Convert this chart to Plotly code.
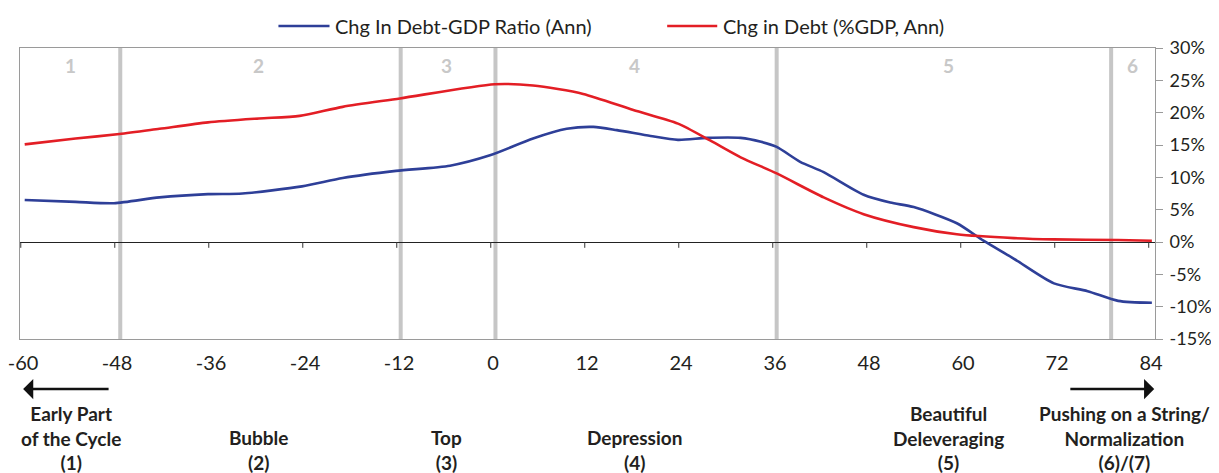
import plotly.graph_objects as go

# months relative to the top of the cycle (month 0)
blue_x = [-59.8, -53.3, -48.4, -42.6, -36.4, -32.0, -24.4, -19.2, -12.4, -5.5, -0.4, 5.1, 9.4,
          12.8, 15.8, 20.1, 23.6, 27.3, 31.6, 34.2, 36.2, 39.2, 42.2, 47.3, 50.7, 53.7, 59.2,
          62.6, 66.5, 71.6, 75.9, 79.8, 84.1]
blue_y = [6.5, 6.2, 6.0, 6.9, 7.4, 7.5, 8.6, 9.9, 11.0, 11.8, 13.4, 16.0, 17.5, 17.8, 17.3,
          16.4, 15.8, 16.1, 16.1, 15.5, 14.7, 12.4, 10.8, 7.3, 6.1, 5.4, 2.9, 0.2, -2.6, -6.4,
          -7.6, -9.1, -9.4]

red_x = [-59.8, -53.3, -47.7, -42.6, -36.4, -29.9, -24.7, -19.2, -11.9, 0.2, 5.1, 11.5, 17.9,
         23.6, 27.7, 31.6, 36.2, 42.2, 47.3, 53.7, 59.2, 66.5, 71.6, 79.8, 84.1]
red_y = [15.1, 16.0, 16.7, 17.5, 18.5, 19.1, 19.5, 20.9, 22.2, 24.4, 24.2, 22.9, 20.4,
         18.3, 15.7, 13.1, 10.6, 6.9, 4.3, 2.3, 1.2, 0.6, 0.4, 0.3, 0.2]

series_names = ["Chg In Debt-GDP Ratio (Ann)", "Chg in Debt (%GDP, Ann)"]
series_colors = ["#2e3f98", "#e31e25"]

stage_bounds = [-47.6, -11.8, 0.3, 36.2, 78.9]
stage_nums = ["1", "2", "3", "4", "5", "6"]
stage_pos = [-53.9, -29.9, -6.0, 18.0, 58.1, 81.6]
label_pos = [-53.9, -29.9, -6.0, 18.0, 58.1, 80.6]
stage_labels = ["Early Part<br>of the Cycle<br>(1)", "Bubble<br>(2)", "Top<br>(3)",
                "Depression<br>(4)", "Beautiful<br>Deleveraging<br>(5)",
                "Pushing on a String/<br>Normalization<br>(6)/(7)"]

x_ticks = list(range(-60, 85, 12))
y_ticks = list(range(-15, 31, 5))

FONT = "Lato"
TXT = "#231f20"

fig = go.Figure()
fig.add_trace(go.Scatter(x=blue_x, y=blue_y, mode="lines", name=series_names[0],
                         line=dict(color=series_colors[0], width=2.6, shape="spline", smoothing=0.7)))
fig.add_trace(go.Scatter(x=red_x, y=red_y, mode="lines", name=series_names[1],
                         line=dict(color=series_colors[1], width=2.6, shape="spline", smoothing=0.7)))

# stage separators
for b in stage_bounds:
    fig.add_shape(type="line", xref="x", yref="paper", x0=b, x1=b, y0=0, y1=1,
                  line=dict(color="#c6c6c6", width=4), layer="below")

# little ticks hanging off the zero line
for t in x_ticks:
    fig.add_shape(type="line", xref="x", yref="y", x0=t - 0.3, x1=t - 0.3, y0=0, y1=-0.9,
                  line=dict(color="#333333", width=1))

for n, p in zip(stage_nums, stage_pos):
    fig.add_annotation(x=p, y=27.3, xref="x", yref="y", text="<b>" + n + "</b>", showarrow=False,
                       font=dict(family=FONT, size=19, color="#c8c8c8"))

for lab, p in zip(stage_labels, label_pos):
    fig.add_annotation(x=p, y=-0.47, xref="x", yref="paper", text="<b>" + lab + "</b>",
                       showarrow=False, yanchor="bottom",
                       font=dict(family=FONT, size=19, color=TXT))

# arrows under the axis
fig.add_annotation(x=-60, y=-0.172, xref="x", yref="paper", ax=-48.9, ay=0,
                   axref="x", ayref="pixel", text="", showarrow=True, arrowhead=1,
                   arrowsize=1.3, arrowwidth=2.6, arrowcolor="#111111")
fig.add_annotation(x=84.4, y=-0.172, xref="x", yref="paper", ax=73.5, ay=0,
                   axref="x", ayref="pixel", text="", showarrow=True, arrowhead=1,
                   arrowsize=1.3, arrowwidth=2.6, arrowcolor="#111111")

# legend drawn above the frame
leg_line = [(0.2277, 0.2727), (0.5702, 0.6143)]
leg_y = 1.0756
for (x0, x1), name, col in zip(leg_line, series_names, series_colors):
    fig.add_shape(type="line", xref="paper", yref="paper", x0=x0, x1=x1, y0=leg_y, y1=leg_y,
                  line=dict(color=col, width=2.6))
    fig.add_annotation(x=x1 + 0.003, y=leg_y, xref="paper", yref="paper", text=name,
                       showarrow=False, xanchor="left", yanchor="middle",
                       font=dict(family=FONT, size=20, color=TXT))

# page body keeps an 8px margin, so the figure is 8px smaller and shifted
fig.update_layout(
    width=1211, height=465,
    margin=dict(l=12, r=64, t=40, b=134),
    paper_bgcolor="white", plot_bgcolor="white",
    font=dict(family=FONT, color=TXT),
    showlegend=False,
    xaxis=dict(range=[-60.4, 84.5], tickvals=x_ticks, ticktext=[str(v) for v in x_ticks],
               ticks="", showgrid=False, zeroline=False, automargin=False,
               ticklabeloverflow="allow",
               showline=True, linecolor="#9a9a9a", linewidth=1, mirror=True,
               ticklabelstandoff=6, tickfont=dict(family=FONT, size=20, color=TXT)),
    yaxis=dict(range=[-15, 30], side="right", tickvals=y_ticks,
               ticktext=[str(v) + "%" for v in y_ticks], ticks="outside", ticklen=7,
               tickcolor="#9a9a9a", showgrid=False, zeroline=True, zerolinecolor="#222222",
               zerolinewidth=1, showline=True, linecolor="#9a9a9a", linewidth=1, mirror=True,
               automargin=False, ticklabelstandoff=3, ticklabeloverflow="allow",
               tickfont=dict(family=FONT, size=18, color=TXT)),
)

fig.write_html("out.html")
